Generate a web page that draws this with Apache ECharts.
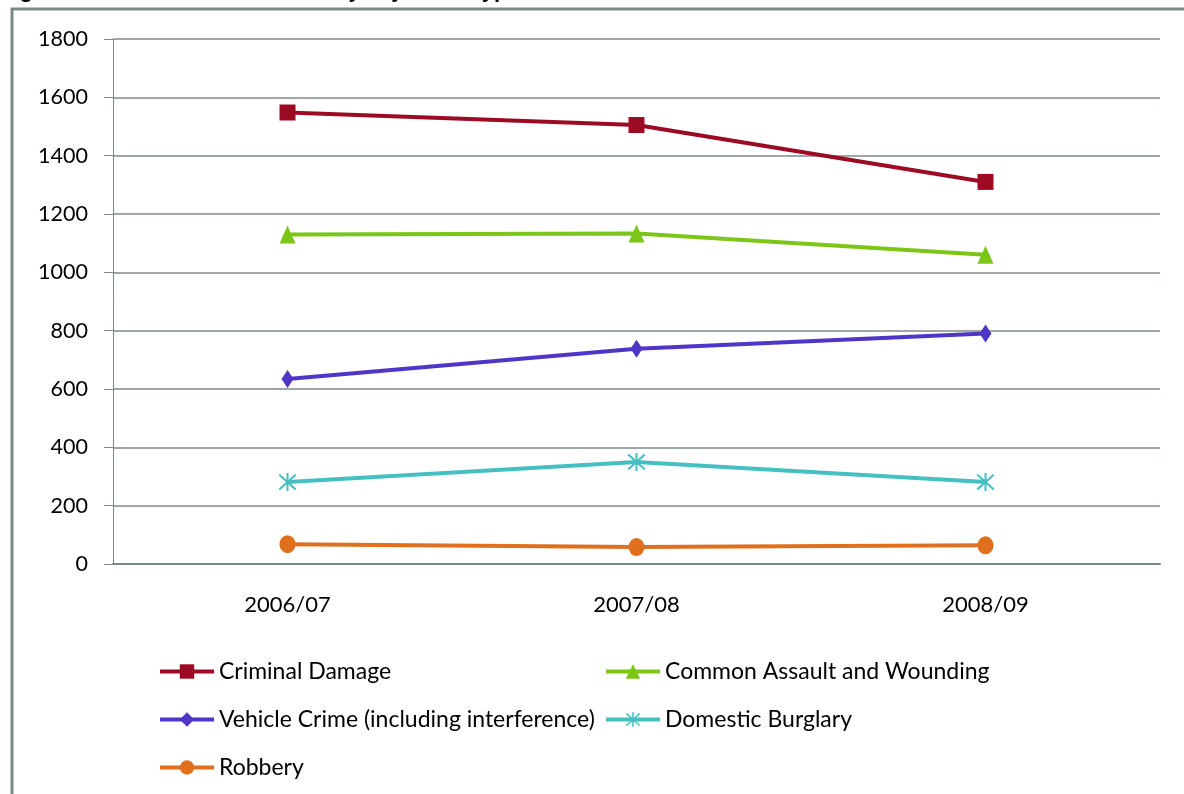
<!DOCTYPE html>
<html>
<head>
<meta charset="utf-8">
<script src="https://cdn.jsdelivr.net/npm/echarts@6/dist/echarts.min.js"></script>
<style>
  html, body { margin: 0; padding: 0; background: #fff; }
  #chart { width: 1184px; height: 794px; }
</style>
</head>
<body>
<div id="chart"></div>
<script>
const categories = ['2006/07', '2007/08', '2008/09']
const seriesNames = [
  'Criminal Damage',
  'Common Assault and Wounding',
  'Vehicle Crime (including interference)',
  'Domestic Burglary',
  'Robbery'
]
const criminalDamage = [1548, 1505, 1310]
const commonAssault = [1130, 1133, 1060]
const vehicleCrime = [634, 738, 790]
const domesticBurglary = [281, 350, 281]
const robbery = [68, 58, 64]
const yTicks = [0, 200, 400, 600, 800, 1000, 1200, 1400, 1600, 1800]

const chart = echarts.init(document.getElementById('chart'))

const gridColor = '#7b8a88'
const asterisk = 'path://M9,0 L11,0 L11,20 L9,20 Z M1,2.5 L2.5,1 L19,17.5 L17.5,19 Z M17.5,1 L19,2.5 L2.5,19 L1,17.5 Z'

const styles = [
  { color: '#9c0a24', symbol: 'rect', symbolSize: 16, data: criminalDamage },
  { color: '#7cc617', symbol: 'triangle', symbolSize: [16, 18], data: commonAssault },
  { color: '#5036c6', symbol: 'diamond', symbolSize: [12, 18], data: vehicleCrime },
  { color: '#46bfc2', symbol: asterisk, symbolSize: 18, data: domesticBurglary },
  { color: '#e0701e', symbol: 'circle', symbolSize: [16, 18], data: robbery }
]

const legendPos = [
  { left: 158, top: 660 },
  { left: 604, top: 660 },
  { left: 158, top: 708 },
  { left: 604, top: 708 },
  { left: 158, top: 756 }
]

const option = {
  animation: false,
  textStyle: { fontFamily: 'Lato' },
  grid: { left: 113, right: 24, top: 39, bottom: 230 },
  graphic: [
    {
      type: 'text', x: 0, y: 2,
      style: {
        text: 'Figure 3.10 Number of offences by key crime type 2006 - 2009',
        font: 'bold 22px "Liberation Sans"', fill: '#000',
        textVerticalAlign: 'bottom', verticalAlign: 'alphabetic'
      }
    },
    {
      type: 'rect', shape: { x: 12, y: 9, width: 1300, height: 900 },
      style: { fill: 'none', stroke: gridColor, lineWidth: 3 }
    }
  ],
  legend: seriesNames.map((n, i) => ({
    data: [n],
    left: legendPos[i].left,
    top: legendPos[i].top,
    padding: 0,
    itemWidth: 54,
    itemHeight: 18,
    itemGap: 2,
    lineStyle: { width: 4 },
    textStyle: { fontSize: 23, color: '#000', fontFamily: 'Lato' }
  })),
  xAxis: {
    type: 'category',
    data: categories,
    boundaryGap: true,
    axisLine: { lineStyle: { color: gridColor, width: 2 } },
    axisTick: { length: 8, lineStyle: { color: gridColor } },
    axisLabel: { fontSize: 22, color: '#000', margin: 30, fontFamily: 'Lato' }
  },
  yAxis: {
    type: 'value',
    min: 0,
    max: 1800,
    interval: 200,
    axisLine: { show: true, lineStyle: { color: gridColor } },
    axisTick: { show: true, length: 9, lineStyle: { color: gridColor } },
    axisLabel: { fontSize: 21.5, color: '#000', margin: 25, fontFamily: 'Lato',
      formatter: v => yTicks.includes(v) ? String(v) : '' },
    splitLine: { lineStyle: { color: gridColor, width: 1.5 } }
  },
  series: seriesNames.map((n, i) => ({
    name: n,
    type: 'line',
    data: styles[i].data,
    symbol: styles[i].symbol,
    symbolSize: styles[i].symbolSize,
    showAllSymbol: true,
    lineStyle: { color: styles[i].color, width: 4 },
    itemStyle: { color: styles[i].color }
  }))
}

chart.setOption(option)
</script>
</body>
</html>
